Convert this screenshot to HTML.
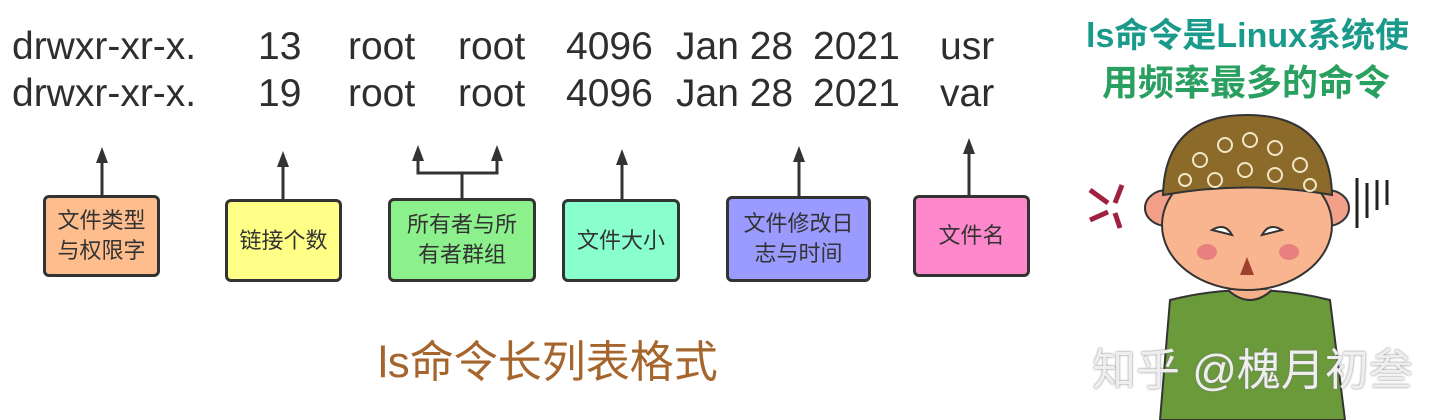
<!DOCTYPE html>
<html><head><meta charset="utf-8"><style>
body{margin:0;width:1440px;height:420px;background:#fff;position:relative;overflow:hidden;font-family:"Liberation Sans","Noto Sans CJK SC",sans-serif}
.t{position:absolute;font-size:39px;color:#2e2e2e;white-space:nowrap}
.b{position:absolute;border:3px solid #333;border-radius:6px;display:flex;align-items:center;justify-content:center;text-align:center;font-size:22px;line-height:30px;color:#333;box-sizing:border-box}
</style></head><body>
<div class="t" style="left:12px;top:25px">drwxr-xr-x.</div>
<div class="t" style="left:12px;top:72px">drwxr-xr-x.</div>
<div class="t" style="left:258px;top:25px">13</div><div class="t" style="left:258px;top:72px">19</div>
<div class="t" style="left:348px;top:25px">root</div><div class="t" style="left:348px;top:72px">root</div>
<div class="t" style="left:458px;top:25px">root</div><div class="t" style="left:458px;top:72px">root</div>
<div class="t" style="left:566px;top:25px">4096</div><div class="t" style="left:566px;top:72px">4096</div>
<div class="t" style="left:676px;top:25px">Jan 28</div><div class="t" style="left:676px;top:72px">Jan 28</div>
<div class="t" style="left:813px;top:25px">2021</div><div class="t" style="left:813px;top:72px">2021</div>
<div class="t" style="left:940px;top:25px">usr</div><div class="t" style="left:940px;top:72px">var</div>
<svg width="1440" height="420" style="position:absolute;left:0;top:0">
<g stroke="#333" stroke-width="3" fill="none">
<line x1="102" y1="195" x2="102" y2="160"/>
<line x1="283" y1="199" x2="283" y2="164"/>
<line x1="462" y1="198" x2="462" y2="173"/>
<polyline points="418,158 418,173 497,173 497,158"/>
<line x1="622" y1="199" x2="622" y2="162"/>
<line x1="799" y1="196" x2="799" y2="159"/>
<line x1="969" y1="195" x2="969" y2="151"/>
</g>
<g fill="#333">
<path d="M96,163 L102,147 L108,163Z"/>
<path d="M277,167 L283,151 L289,167Z"/>
<path d="M412,161 L418,145 L424,161Z"/>
<path d="M491,161 L497,145 L503,161Z"/>
<path d="M616,165 L622,149 L628,165Z"/>
<path d="M793,162 L799,146 L805,162Z"/>
<path d="M963,154 L969,138 L975,154Z"/>
</g>
<path d="M1170,300 Q1250,280 1330,300 L1345,420 L1160,420Z" fill="#6a9a3a" stroke="#333" stroke-width="2"/>
<path d="M1228,290 Q1250,310 1272,290" fill="#f5b08a" stroke="#333" stroke-width="2"/>
<ellipse cx="1167" cy="208" rx="22" ry="18" fill="#f3a08a" stroke="#333" stroke-width="2"/>
<ellipse cx="1327" cy="208" rx="22" ry="18" fill="#f3a08a" stroke="#333" stroke-width="2"/>
<ellipse cx="1247" cy="225" rx="85" ry="65" fill="#f8b590" stroke="#333" stroke-width="2"/>
<path d="M1163,195 Q1165,115 1247,115 Q1330,115 1332,195 Q1247,180 1163,195Z" fill="#8b6a2a" stroke="#333" stroke-width="2"/>
<g fill="none" stroke="#f2e6c8" stroke-width="2">
<circle cx="1200" cy="160" r="7"/><circle cx="1225" cy="145" r="7"/><circle cx="1250" cy="140" r="7"/><circle cx="1275" cy="148" r="7"/><circle cx="1300" cy="165" r="7"/><circle cx="1215" cy="180" r="7"/><circle cx="1245" cy="170" r="7"/><circle cx="1275" cy="175" r="7"/><circle cx="1185" cy="180" r="6"/><circle cx="1310" cy="185" r="6"/>
</g>
<ellipse cx="1207" cy="252" rx="10" ry="8" fill="#e88080"/><ellipse cx="1289" cy="252" rx="10" ry="8" fill="#e88080"/>
<path d="M1212,230 Q1225,222 1232,235 Z" fill="#fff" stroke="#333" stroke-width="2"/>
<path d="M1282,230 Q1269,222 1262,235 Z" fill="#fff" stroke="#333" stroke-width="2"/>
<path d="M1240,275 L1247,257 L1254,275Z" fill="#a04030"/>
<g stroke="#a02040" stroke-width="5" fill="none"><path d="M1090,190 L1108,203"/><path d="M1122,185 L1115,203"/><path d="M1090,220 L1108,212"/><path d="M1120,228 L1115,213"/></g>
<g stroke="#222" stroke-width="3"><line x1="1357" y1="178" x2="1357" y2="228"/><line x1="1367" y1="183" x2="1367" y2="218"/><line x1="1377" y1="180" x2="1377" y2="210"/><line x1="1387" y1="180" x2="1387" y2="205"/></g>
</svg>
<div class="b" style="left:43px;top:195px;width:117px;height:82px;background:#fdbd8c">文件类型<br>与权限字</div>
<div class="b" style="left:225px;top:199px;width:117px;height:83px;background:#ffff88">链接个数</div>
<div class="b" style="left:388px;top:198px;width:148px;height:84px;background:#8cf08c">所有者与所<br>有者群组</div>
<div class="b" style="left:562px;top:199px;width:118px;height:83px;background:#88ffcc">文件大小</div>
<div class="b" style="left:726px;top:196px;width:145px;height:86px;background:#9a9aff">文件修改日<br>志与时间</div>
<div class="b" style="left:913px;top:195px;width:117px;height:82px;background:#ff88cc">文件名</div>
<div class="t" style="left:378px;top:326px;font-size:44px;color:#a5652d">ls命令长列表格式</div>
<div class="t" style="left:1086px;top:8px;font-size:34px;font-weight:bold;color:#1a9a8a">ls命令是Linux系统使</div>
<div class="t" style="left:1102px;top:54px;font-size:36px;font-weight:bold;color:#2aa060">用频率最多的命令</div>
<div class="t" style="left:1092px;top:334px;font-size:44px;color:#eee;text-shadow:0 0 2px #777">知乎 @槐月初叁</div>
</body></html>
